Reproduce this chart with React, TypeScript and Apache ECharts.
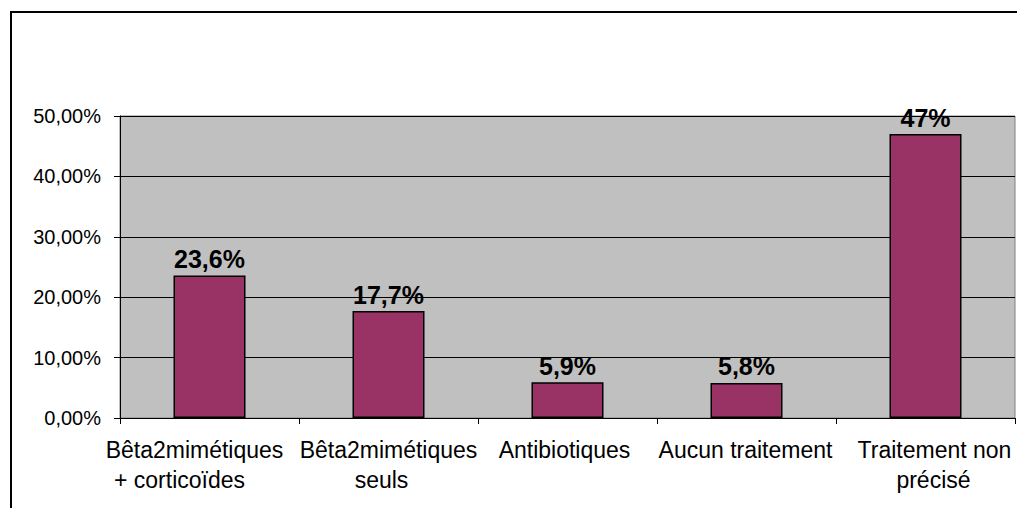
import React, { useEffect, useRef } from "react";
import * as echarts from "echarts";

const categories = [
  "Bêta2mimétiques\n+ corticoïdes",
  "Bêta2mimétiques\nseuls",
  "Antibiotiques",
  "Aucun traitement",
  "Traitement non\nprécisé",
];
const values = [23.6, 17.7, 5.9, 5.8, 47];
const valueLabels = ["23,6%", "17,7%", "5,9%", "5,8%", "47%"];
const yTicks = { min: 0, max: 50, interval: 10 };

// horizontal nudges (px) of each label line, as in the reference layout
const labelLineShifts = [
  [-15, -30],
  [0, -7],
  [-3],
  [-1],
  [9, 8],
];

const catFont = {
  fontFamily: "Liberation Sans, Arial, sans-serif",
  fontSize: 23,
  lineHeight: 30,
  color: "#000",
};

function buildRich() {
  const rich: Record<string, any> = {};
  labelLineShifts.forEach((lines, i) =>
    lines.forEach((d, j) => {
      rich[`s${i}_${j}`] = {
        ...catFont,
        padding: d < 0 ? [0, -2 * d, 0, 0] : [0, 0, 0, 2 * d],
      };
    })
  );
  return rich;
}

export default function App() {
  const ref = useRef<HTMLDivElement>(null);
  useEffect(() => {
    if (!ref.current) return;
    const chart = echarts.init(ref.current, null, { renderer: "svg" });
    chart.setOption({
      animation: false,
      backgroundColor: "#ffffff",
      graphic: [
        {
          type: "rect",
          shape: { x: 11, y: 12, width: 1100, height: 600 },
          style: { fill: "none", stroke: "#000", lineWidth: 2 },
          silent: true,
        },
      ],
      grid: {
        left: 120,
        top: 116,
        right: 2,
        bottom: 90,
        show: true,
        backgroundColor: "#c0c0c0",
        borderColor: "#808080",
        borderWidth: 1,
      },
      xAxis: {
        type: "category",
        data: categories,
        axisLine: { show: true, lineStyle: { color: "#000", width: 1 } },
        axisTick: { show: true, length: 6, alignWithLabel: false, lineStyle: { color: "#000" } },
        axisLabel: {
          interval: 0,
          margin: 17,
          ...catFont,
          align: "center",
          rich: buildRich(),
          formatter: (value: string, index: number) =>
            value
              .split("\n")
              .map((line, j) => `{s${index}_${j}|${line}}`)
              .join("\n"),
        },
      },
      yAxis: {
        type: "value",
        min: yTicks.min,
        max: yTicks.max,
        interval: yTicks.interval,
        axisLine: { show: true, lineStyle: { color: "#000", width: 1 } },
        axisTick: { show: true, length: 6, lineStyle: { color: "#000" } },
        splitLine: { show: true, lineStyle: { color: "#000", width: 1 } },
        axisLabel: {
          margin: 19,
          fontFamily: "Liberation Sans, Arial, sans-serif",
          fontSize: 20,
          color: "#000",
          formatter: (v: number) => v.toFixed(2).replace(".", ",") + "%",
        },
      },
      series: [
        {
          type: "bar",
          data: values,
          barWidth: 72,
          itemStyle: { color: "#993366", borderColor: "#000", borderWidth: 1.5 },
          label: {
            show: true,
            position: "top",
            distance: 4,
            fontFamily: "Liberation Sans, Arial, sans-serif",
            fontWeight: "bold",
            fontSize: 25,
            color: "#000",
            formatter: (p: any) => valueLabels[p.dataIndex],
          },
        },
      ],
    });
    return () => chart.dispose();
  }, []);
  return (
    <div
      ref={ref}
      style={{ position: "absolute", left: 0, top: 0, width: 1017, height: 508 }}
    />
  );
}
